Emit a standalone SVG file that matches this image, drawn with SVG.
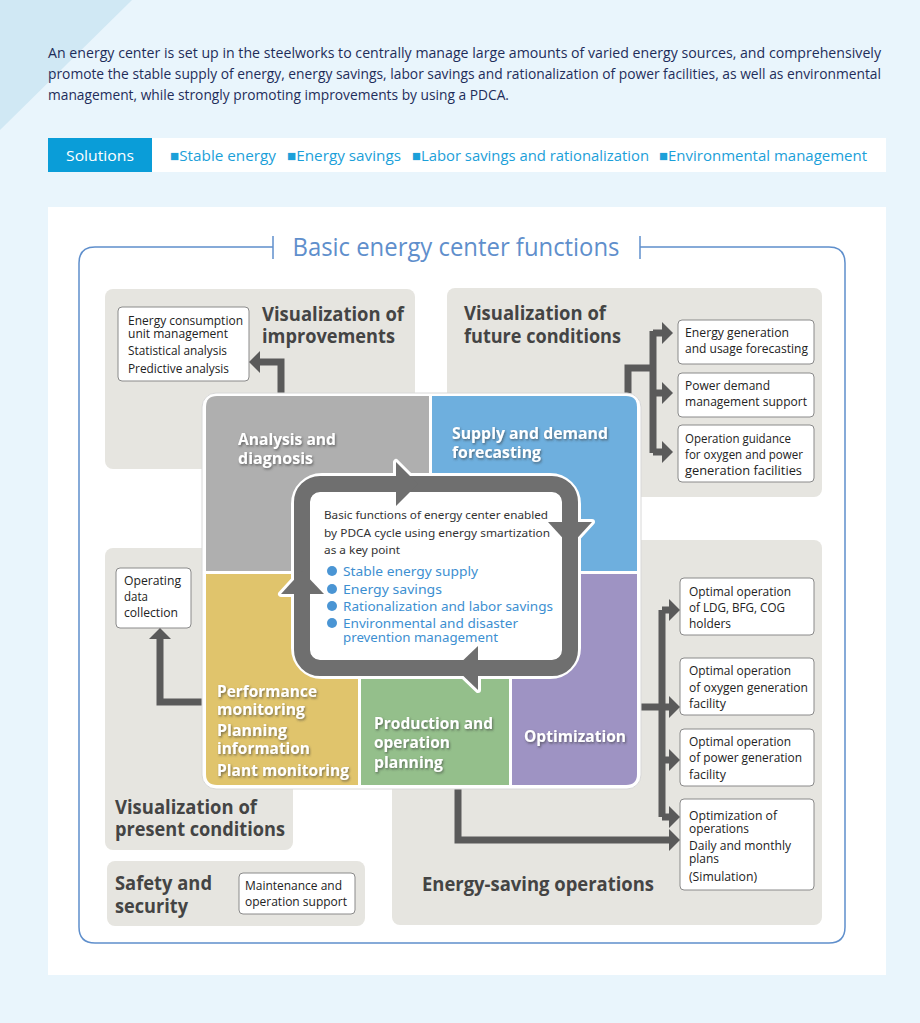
<svg xmlns="http://www.w3.org/2000/svg" width="920" height="1023" viewBox="0 0 920 1023">
<defs>
<style>
.intro{font-family:"Open Sans","Liberation Sans",sans-serif;font-size:14px;fill:#1e2d5a}
.sol{font-family:"Open Sans","Liberation Sans",sans-serif;font-size:15px;fill:#1ba0d9}
.gbox{fill:#e6e5e0}
.head{font-family:"Open Sans","Liberation Sans",sans-serif;font-weight:bold;font-size:20px;fill:#444}
.wbox{fill:#fff;stroke:#8a8a8a;stroke-width:1}
.bt{font-family:"Open Sans","Liberation Sans",sans-serif;font-size:12px;fill:#222}
.q{font-family:"Open Sans","Liberation Sans",sans-serif;font-weight:bold;font-size:16.5px;fill:#fff}
.ct{font-family:"Noto Sans","Liberation Sans",sans-serif;font-size:11.5px;fill:#333}
.cb{font-family:"Noto Sans","Liberation Sans",sans-serif;font-size:13px;fill:#3d8fd1}
.con{fill:none;stroke:#5a5a5a;stroke-width:7}
.ah{fill:#5a5a5a}
</style>
<filter id="sh" x="-10%" y="-20%" width="130%" height="150%">
<feDropShadow dx="1" dy="1.5" stdDeviation="0.8" flood-color="#333" flood-opacity="0.6"/>
</filter>
</defs>
<rect width="920" height="1023" fill="#e9f5fc"/>
<polygon points="0,0 132,0 0,130" fill="#d0e8f4"/>
<text class="intro" x="48" y="58" textLength="833" lengthAdjust="spacingAndGlyphs">An energy center is set up in the steelworks to centrally manage large amounts of varied energy sources, and comprehensively</text>
<text class="intro" x="48" y="79" textLength="833" lengthAdjust="spacingAndGlyphs">promote the stable supply of energy, energy savings, labor savings and rationalization of power facilities, as well as environmental</text>
<text class="intro" x="48" y="100" textLength="461" lengthAdjust="spacingAndGlyphs">management, while strongly promoting improvements by using a PDCA.</text>
<g id="solutions">
<rect x="152" y="138" width="734" height="34" fill="#fff"/>
<rect x="48" y="138" width="104" height="34" fill="#0a9dd8"/>
<text x="100" y="161" text-anchor="middle" font-family="Open Sans, Liberation Sans, sans-serif" font-size="15" fill="#fff" textLength="68" lengthAdjust="spacingAndGlyphs">Solutions</text>
<text class="sol" x="170" y="161" textLength="106" lengthAdjust="spacingAndGlyphs">■Stable energy</text>
<text class="sol" x="287" y="161" textLength="114" lengthAdjust="spacingAndGlyphs">■Energy savings</text>
<text class="sol" x="412" y="161" textLength="237" lengthAdjust="spacingAndGlyphs">■Labor savings and rationalization</text>
<text class="sol" x="659" y="161" textLength="208" lengthAdjust="spacingAndGlyphs">■Environmental management</text>
</g>
<rect x="48" y="207" width="838" height="768" fill="#fff"/>
<g id="frame">
<path d="M273,247 H95 Q79,247 79,263 V927 Q79,943 95,943 H829 Q845,943 845,927 V263 Q845,247 829,247 H640" fill="none" stroke="#5f8fcc" stroke-width="1.5"/>
<line x1="273" y1="236" x2="273" y2="259" stroke="#5f8fcc" stroke-width="1.5"/>
<line x1="640" y1="236" x2="640" y2="259" stroke="#5f8fcc" stroke-width="1.5"/>
<text x="456" y="256" text-anchor="middle" font-family="Open Sans, Liberation Sans, sans-serif" font-size="25" fill="#5f8fcc" textLength="327" lengthAdjust="spacingAndGlyphs">Basic energy center functions</text>
</g>
<g id="improvements">
<rect class="gbox" x="105" y="289" width="310" height="180" rx="8"/>
<text class="head" x="262" y="321" textLength="142" lengthAdjust="spacingAndGlyphs">Visualization of</text>
<text class="head" x="262" y="343" textLength="133" lengthAdjust="spacingAndGlyphs">improvements</text>
<rect class="wbox" x="118" y="307" width="131" height="74" rx="4"/>
<text class="bt" x="128" y="325" textLength="115" lengthAdjust="spacingAndGlyphs">Energy consumption</text>
<text class="bt" x="128" y="338" textLength="100" lengthAdjust="spacingAndGlyphs">unit management</text>
<text class="bt" x="128" y="355" textLength="99" lengthAdjust="spacingAndGlyphs">Statistical analysis</text>
<text class="bt" x="128" y="373" textLength="101" lengthAdjust="spacingAndGlyphs">Predictive analysis</text>
</g>
<g id="future">
<rect class="gbox" x="447" y="288" width="375" height="209" rx="8"/>
<text class="head" x="464" y="320" textLength="142" lengthAdjust="spacingAndGlyphs">Visualization of</text>
<text class="head" x="464" y="343" textLength="157" lengthAdjust="spacingAndGlyphs">future conditions</text>
<rect class="wbox" x="678" y="320" width="136" height="44" rx="4"/>
<text class="bt" x="685" y="337" textLength="104" lengthAdjust="spacingAndGlyphs">Energy generation</text>
<text class="bt" x="685" y="353" textLength="123" lengthAdjust="spacingAndGlyphs">and usage forecasting</text>
<rect class="wbox" x="678" y="373" width="136" height="44" rx="4"/>
<text class="bt" x="685" y="390" textLength="85" lengthAdjust="spacingAndGlyphs">Power demand</text>
<text class="bt" x="685" y="406" textLength="122" lengthAdjust="spacingAndGlyphs">management support</text>
<rect class="wbox" x="678" y="425" width="136" height="57" rx="4"/>
<text class="bt" x="685" y="443" textLength="106" lengthAdjust="spacingAndGlyphs">Operation guidance</text>
<text class="bt" x="685" y="459" textLength="118" lengthAdjust="spacingAndGlyphs">for oxygen and power</text>
<text class="bt" x="685" y="475" textLength="117" lengthAdjust="spacingAndGlyphs">generation facilities</text>
</g>
<g id="present">
<rect class="gbox" x="105" y="548" width="188" height="302" rx="8"/>
<text class="head" x="115" y="814" textLength="142" lengthAdjust="spacingAndGlyphs">Visualization of</text>
<text class="head" x="115" y="836" textLength="170" lengthAdjust="spacingAndGlyphs">present conditions</text>
<rect class="wbox" x="116" y="568" width="75" height="60" rx="4"/>
<text class="bt" x="124" y="585" textLength="57" lengthAdjust="spacingAndGlyphs">Operating</text>
<text class="bt" x="124" y="601" textLength="24" lengthAdjust="spacingAndGlyphs">data</text>
<text class="bt" x="124" y="617" textLength="54" lengthAdjust="spacingAndGlyphs">collection</text>
</g>
<g id="safety">
<rect class="gbox" x="107" y="861" width="258" height="65" rx="8"/>
<text class="head" x="115" y="890" textLength="97" lengthAdjust="spacingAndGlyphs">Safety and</text>
<text class="head" x="115" y="913" textLength="73" lengthAdjust="spacingAndGlyphs">security</text>
<rect class="wbox" x="239" y="873" width="116" height="41" rx="4"/>
<text class="bt" x="245" y="890" textLength="97" lengthAdjust="spacingAndGlyphs">Maintenance and</text>
<text class="bt" x="245" y="906" textLength="102" lengthAdjust="spacingAndGlyphs">operation support</text>
</g>
<g id="energy-saving">
<rect class="gbox" x="392" y="540" width="430" height="385" rx="8"/>
<text class="head" x="422" y="891" textLength="232" lengthAdjust="spacingAndGlyphs">Energy-saving operations</text>
<rect class="wbox" x="680" y="578" width="134" height="57" rx="4"/>
<text class="bt" x="689" y="596" textLength="102" lengthAdjust="spacingAndGlyphs">Optimal operation</text>
<text class="bt" x="689" y="612" textLength="96" lengthAdjust="spacingAndGlyphs">of LDG, BFG, COG</text>
<text class="bt" x="689" y="628" textLength="42" lengthAdjust="spacingAndGlyphs">holders</text>
<rect class="wbox" x="680" y="658" width="134" height="57" rx="4"/>
<text class="bt" x="689" y="675" textLength="102" lengthAdjust="spacingAndGlyphs">Optimal operation</text>
<text class="bt" x="689" y="692" textLength="119" lengthAdjust="spacingAndGlyphs">of oxygen generation</text>
<text class="bt" x="689" y="708" textLength="37" lengthAdjust="spacingAndGlyphs">facility</text>
<rect class="wbox" x="680" y="729" width="134" height="57" rx="4"/>
<text class="bt" x="689" y="746" textLength="102" lengthAdjust="spacingAndGlyphs">Optimal operation</text>
<text class="bt" x="689" y="762" textLength="113" lengthAdjust="spacingAndGlyphs">of power generation</text>
<text class="bt" x="689" y="779" textLength="37" lengthAdjust="spacingAndGlyphs">facility</text>
<rect class="wbox" x="680" y="799" width="134" height="91" rx="4"/>
<text class="bt" x="689" y="820" textLength="88" lengthAdjust="spacingAndGlyphs">Optimization of</text>
<text class="bt" x="689" y="833" textLength="60" lengthAdjust="spacingAndGlyphs">operations</text>
<text class="bt" x="689" y="850" textLength="102" lengthAdjust="spacingAndGlyphs">Daily and monthly</text>
<text class="bt" x="689" y="863" textLength="30" lengthAdjust="spacingAndGlyphs">plans</text>
<text class="bt" x="689" y="881" textLength="68" lengthAdjust="spacingAndGlyphs">(Simulation)</text>
</g>
<g id="connectors">
<path class="con" d="M281,394 V362 H258"/>
<polygon class="ah" points="249,362 260,351 260,373"/>
<path class="con" d="M628,394 V368 H653"/>
<path class="con" d="M653,331 V453"/>
<path class="con" d="M653,333 H664 M653,393 H664 M653,452 H664"/>
<polygon class="ah" points="673,333 662,322 662,344"/>
<polygon class="ah" points="673,393 662,382 662,404"/>
<polygon class="ah" points="673,452 662,441 662,463"/>
<path class="con" d="M204,702 H160 V638"/>
<polygon class="ah" points="160,628 149,639 171,639"/>
<path class="con" d="M638,707 H662"/>
<path class="con" d="M662,610 V817"/>
<path class="con" d="M662,610 H670 M662,707 H670 M662,760 H670 M662,817 H670"/>
<polygon class="ah" points="680,610 669,599 669,621"/>
<polygon class="ah" points="680,707 669,696 669,718"/>
<polygon class="ah" points="680,760 669,749 669,771"/>
<polygon class="ah" points="680,817 669,806 669,828"/>
<path class="con" d="M458,786 V840 H670"/>
<polygon class="ah" points="680,840 669,829 669,851"/>
</g>
<g id="center">
<rect x="202" y="393" width="439" height="396" rx="14" fill="#fff" stroke="#d8d8d8" stroke-width="1"/>
<path d="M206,407 Q206,396 217,396 H429 V571 H206 Z" fill="#afafaf"/>
<path d="M432,396 H626 Q637,396 637,407 V571 H432 Z" fill="#6eafde"/>
<path d="M206,574 H358 V785 H217 Q206,785 206,774 Z" fill="#e0c46c"/>
<rect x="361" y="574" width="148" height="211" fill="#94bf8b"/>
<path d="M512,574 H637 V774 Q637,785 626,785 H512 Z" fill="#9e93c3"/>
<g filter="url(#sh)">
<text class="q" x="238" y="445" textLength="98" lengthAdjust="spacingAndGlyphs">Analysis and</text>
<text class="q" x="238" y="464" textLength="75" lengthAdjust="spacingAndGlyphs">diagnosis</text>
<text class="q" x="452" y="439" textLength="156" lengthAdjust="spacingAndGlyphs">Supply and demand</text>
<text class="q" x="452" y="458" textLength="89" lengthAdjust="spacingAndGlyphs">forecasting</text>
<text class="q" x="217" y="697" textLength="100" lengthAdjust="spacingAndGlyphs">Performance</text>
<text class="q" x="217" y="715" textLength="88" lengthAdjust="spacingAndGlyphs">monitoring</text>
<text class="q" x="217" y="736" textLength="70" lengthAdjust="spacingAndGlyphs">Planning</text>
<text class="q" x="217" y="754" textLength="93" lengthAdjust="spacingAndGlyphs">information</text>
<text class="q" x="217" y="776" textLength="132" lengthAdjust="spacingAndGlyphs">Plant monitoring</text>
<text class="q" x="374" y="729" textLength="119" lengthAdjust="spacingAndGlyphs">Production and</text>
<text class="q" x="374" y="748" textLength="76" lengthAdjust="spacingAndGlyphs">operation</text>
<text class="q" x="374" y="768" textLength="69" lengthAdjust="spacingAndGlyphs">planning</text>
<text class="q" x="524" y="742" textLength="102" lengthAdjust="spacingAndGlyphs">Optimization</text>
</g>
</g>
<g id="pdca">
<rect x="302" y="484" width="268" height="184" rx="20" fill="#fff" stroke="#fff" stroke-width="22"/>
<polygon points="418,484 396,462 396,506" fill="#fff" stroke="#fff" stroke-width="6" stroke-linejoin="round"/>
<polygon points="570,546 548,522 592,522" fill="#fff" stroke="#fff" stroke-width="6" stroke-linejoin="round"/>
<polygon points="455,668 478,646 478,690" fill="#fff" stroke="#fff" stroke-width="6" stroke-linejoin="round"/>
<polygon points="302,571 281,594 324,594" fill="#fff" stroke="#fff" stroke-width="6" stroke-linejoin="round"/>
<rect x="302" y="484" width="268" height="184" rx="18" fill="#fff" stroke="#6f6f6f" stroke-width="16"/>
<rect x="311" y="493" width="250" height="166" rx="8" fill="#fff"/>
<polygon points="418,484 396,462 396,506" fill="#6f6f6f"/>
<polygon points="570,546 548,522 592,522" fill="#6f6f6f"/>
<polygon points="455,668 478,646 478,690" fill="#6f6f6f"/>
<polygon points="302,571 281,594 324,594" fill="#6f6f6f"/>
<text class="ct" x="324" y="519" textLength="224" lengthAdjust="spacingAndGlyphs">Basic functions of energy center enabled</text>
<text class="ct" x="324" y="537" textLength="226" lengthAdjust="spacingAndGlyphs">by PDCA cycle using energy smartization</text>
<text class="ct" x="324" y="554" textLength="76" lengthAdjust="spacingAndGlyphs">as a key point</text>
<circle cx="332" cy="571" r="5" fill="#4a95d4"/>
<circle cx="332" cy="589" r="5" fill="#4a95d4"/>
<circle cx="332" cy="606" r="5" fill="#4a95d4"/>
<circle cx="332" cy="623" r="5" fill="#4a95d4"/>
<text class="cb" x="343" y="576" textLength="135" lengthAdjust="spacingAndGlyphs">Stable energy supply</text>
<text class="cb" x="343" y="594" textLength="99" lengthAdjust="spacingAndGlyphs">Energy savings</text>
<text class="cb" x="343" y="611" textLength="210" lengthAdjust="spacingAndGlyphs">Rationalization and labor savings</text>
<text class="cb" x="343" y="628" textLength="175" lengthAdjust="spacingAndGlyphs">Environmental and disaster</text>
<text class="cb" x="343" y="642" textLength="155" lengthAdjust="spacingAndGlyphs">prevention management</text>
</g>
</svg>
